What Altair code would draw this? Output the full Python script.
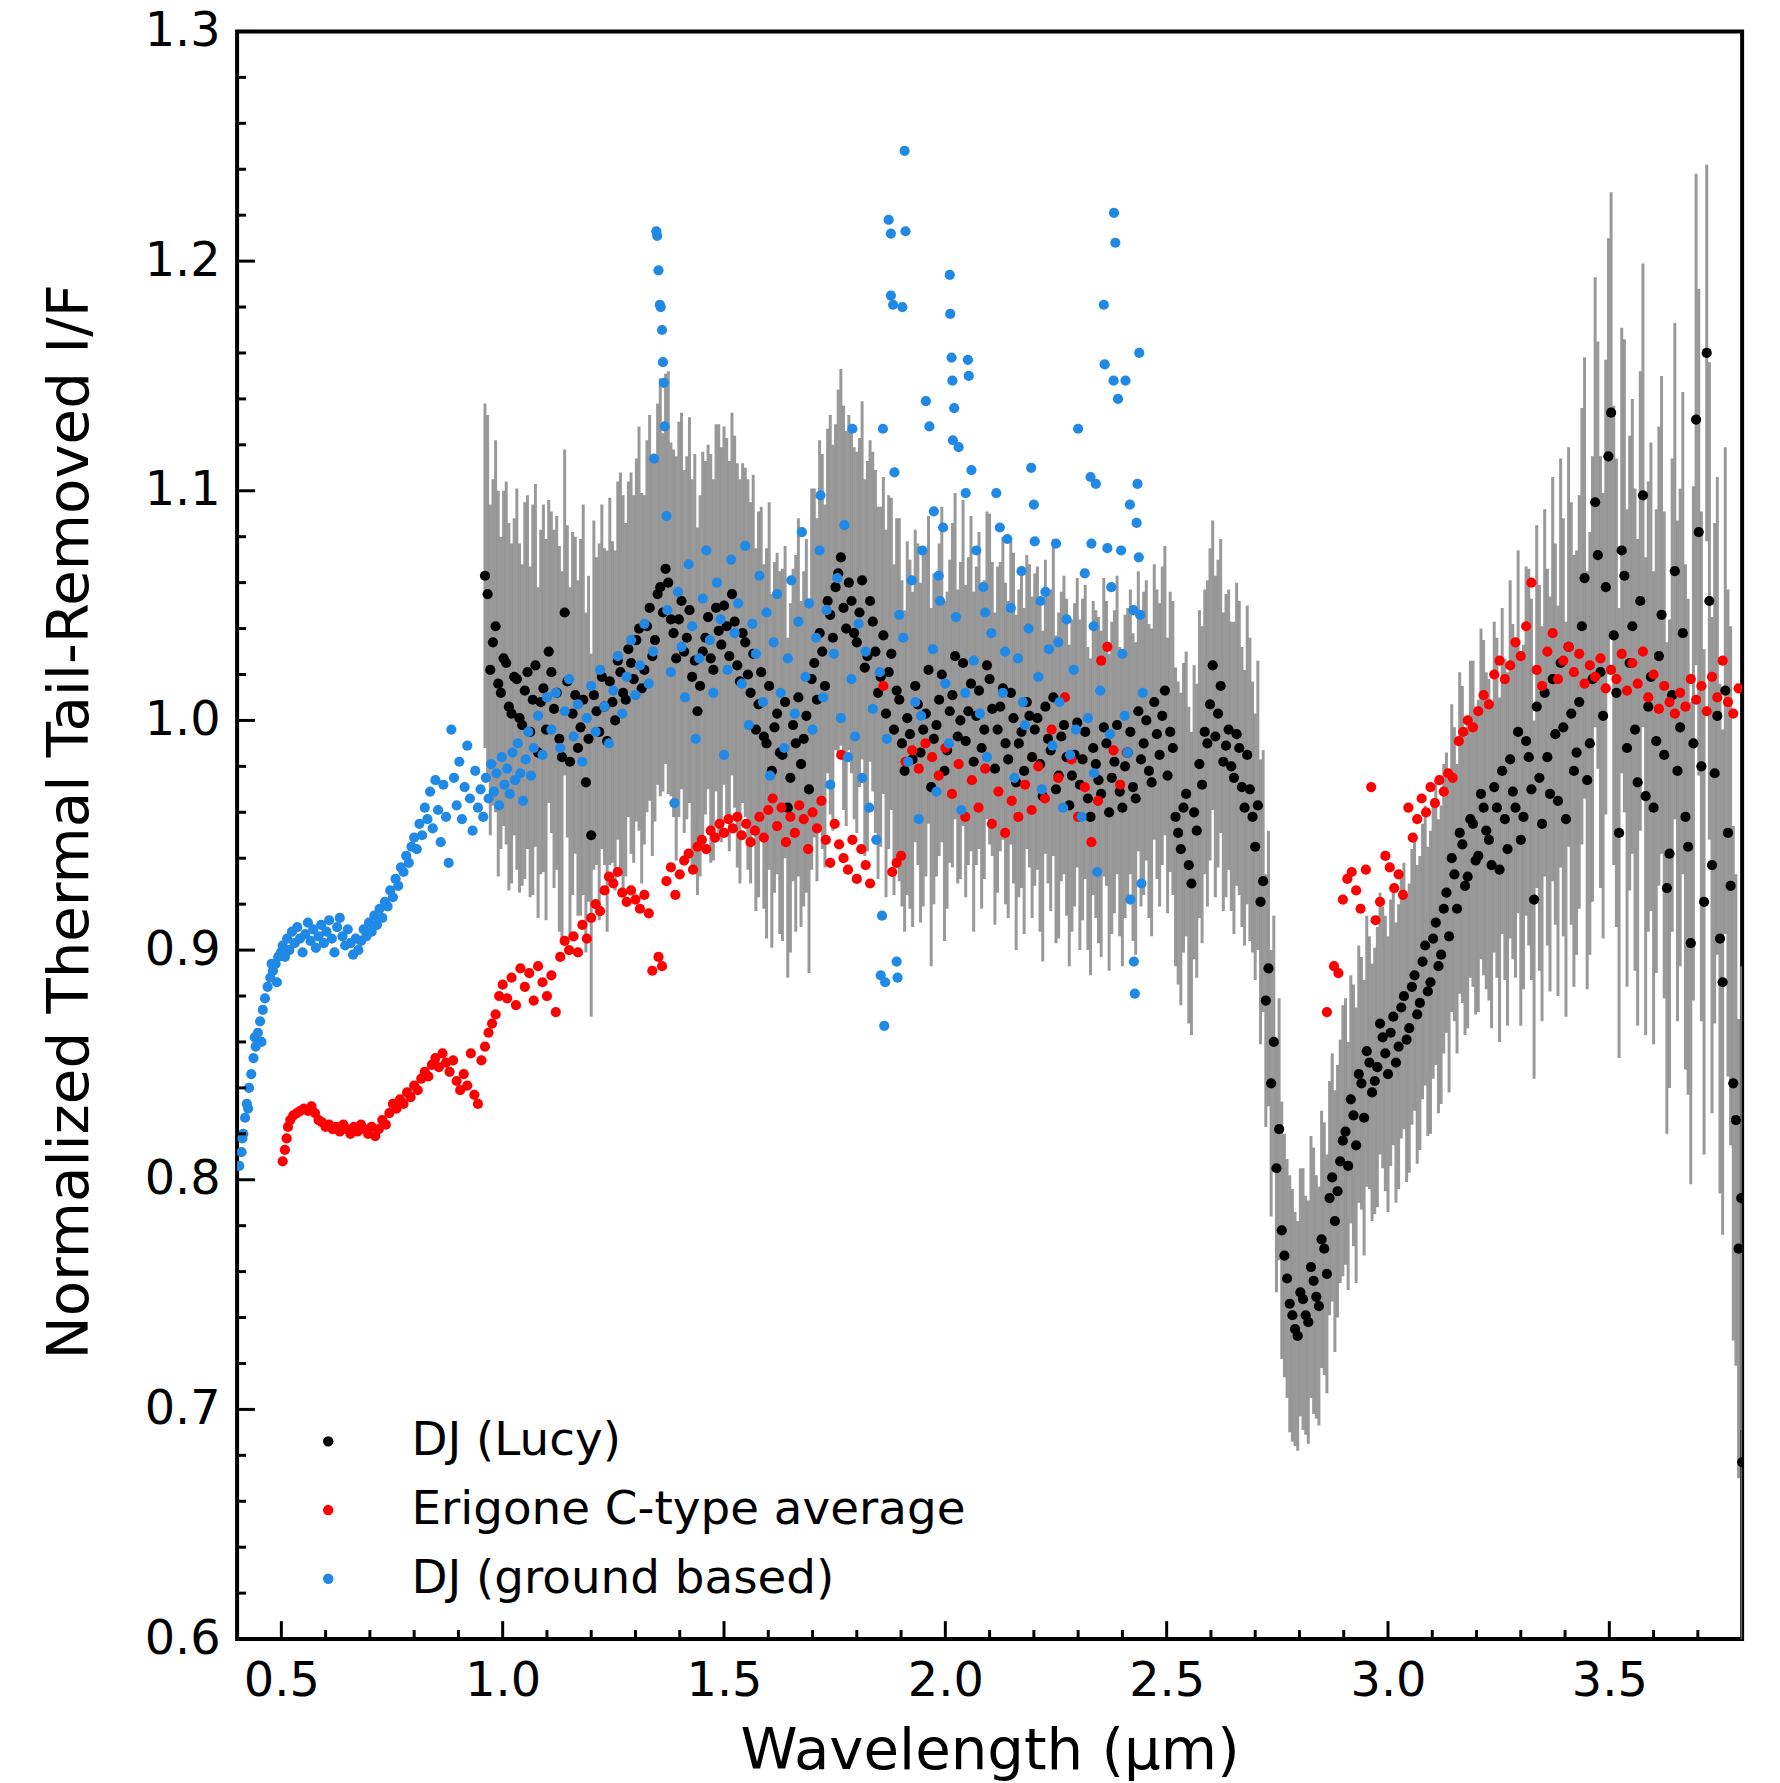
import altair as alt
import pandas as pd

# ---- DJ (Lucy): wavelength, normalized I/F and 1-sigma error ----
lucy_wl = [
    0.960, 0.972, 0.984, 0.996, 1.008, 1.020, 1.032, 1.044, 1.056, 1.068,
    1.080, 1.092, 1.104, 1.116, 1.128, 1.140, 1.152, 1.164, 1.176, 1.188,
    1.200, 1.212, 1.224, 1.236, 1.248, 1.260, 1.272, 1.284, 1.296, 1.308,
    1.320, 1.332, 1.344, 1.356, 1.368, 1.380, 1.392, 1.404, 1.416, 1.428,
    1.440, 1.452, 1.464, 1.476, 1.488, 1.500, 1.512, 1.524, 1.536, 1.548,
    1.560, 1.572, 1.584, 1.596, 1.608, 1.620, 1.632, 1.644, 1.656, 1.668,
    1.680, 1.692, 1.704, 1.716, 1.728, 1.740, 1.752, 1.764, 1.776, 1.788,
    1.800, 1.812, 1.824, 1.836, 1.848, 1.860, 1.872, 1.884, 1.896, 1.908,
    1.920, 1.932, 1.944, 1.956, 1.968, 1.980, 1.992, 2.004, 2.016, 2.028,
    2.040, 2.052, 2.064, 2.076, 2.088, 2.100, 2.112, 2.124, 2.136, 2.148,
    2.160, 2.172, 2.184, 2.196, 2.208, 2.220, 2.232, 2.244, 2.256, 2.268,
    2.280, 2.292, 2.304, 2.316, 2.328, 2.340, 2.352, 2.364, 2.376, 2.388,
    2.400, 2.412, 2.424, 2.436, 2.448, 2.460, 2.472, 2.484, 2.496, 2.508,
    2.520, 2.532, 2.544, 2.556, 2.568, 2.580, 2.592, 2.604, 2.616, 2.628,
    2.640, 2.652, 2.664, 2.676, 2.688, 2.700, 2.712, 2.724, 2.736, 2.748,
    2.760, 2.772, 2.784, 2.796, 2.808, 2.820, 2.832, 2.844, 2.856, 2.868,
    2.880, 2.892, 2.904, 2.916, 2.928, 2.940, 2.952, 2.964, 2.976, 2.988,
    3.000, 3.012, 3.024, 3.036, 3.048, 3.060, 3.072, 3.084, 3.096, 3.108,
    3.120, 3.132, 3.144, 3.156, 3.168, 3.180, 3.192, 3.204, 3.216, 3.228,
    3.240, 3.252, 3.264, 3.276, 3.288, 3.300, 3.312, 3.324, 3.336, 3.348,
    3.360, 3.372, 3.384, 3.396, 3.408, 3.420, 3.432, 3.444, 3.456, 3.468,
    3.480, 3.492, 3.504, 3.516, 3.528, 3.540, 3.552, 3.564, 3.576, 3.588,
    3.600, 3.612, 3.624, 3.636, 3.648, 3.660, 3.672, 3.684, 3.696, 3.708,
    3.720, 3.732, 3.744, 3.756, 3.768, 3.780, 3.792, 3.800,
    # interleaved samples
    0.966, 0.978, 0.990, 1.002, 1.014, 1.026, 1.038, 1.050, 1.062, 1.074,
    1.086, 1.098, 1.110, 1.122, 1.134, 1.146, 1.158, 1.170, 1.182, 1.194,
    1.206, 1.218, 1.230, 1.242, 1.254, 1.266, 1.278, 1.290, 1.302, 1.314,
    1.326, 1.338, 1.350, 1.362, 1.374, 1.386, 1.398, 1.410, 1.422, 1.434,
    1.446, 1.458, 1.470, 1.482, 1.494, 1.506, 1.518, 1.530, 1.542, 1.554,
    1.566, 1.578, 1.590, 1.602, 1.614, 1.626, 1.638, 1.650, 1.662, 1.674,
    1.686, 1.698, 1.710, 1.722, 1.734, 1.746, 1.758, 1.770, 1.782, 1.794,
    1.806, 1.818, 1.830, 1.842, 1.854, 1.866, 1.878, 1.890, 1.902, 1.914,
    1.926, 1.938, 1.950, 1.962, 1.974, 1.986, 1.998, 2.010, 2.022, 2.034,
    2.046, 2.058, 2.070, 2.082, 2.094, 2.106, 2.118, 2.130, 2.142, 2.154,
    2.166, 2.178, 2.190, 2.202, 2.214, 2.226, 2.238, 2.250, 2.262, 2.274,
    2.286, 2.298, 2.310, 2.322, 2.334, 2.346, 2.358, 2.370, 2.382, 2.394,
    2.406, 2.418, 2.430, 2.442, 2.454, 2.466, 2.478, 2.490, 2.502, 2.514,
    2.526, 2.538, 2.550, 2.562, 2.574, 2.586, 2.598, 2.610, 2.622, 2.634,
    2.646, 2.658, 2.670, 2.682, 2.694, 2.706, 2.718, 2.730, 2.742, 2.754,
    2.766, 2.778, 2.790, 2.802, 2.814, 2.826, 2.838, 2.850, 2.862, 2.874,
    2.886, 2.898, 2.910, 2.922, 2.934, 2.946, 2.958, 2.970, 2.982, 2.994,
    3.006, 3.018, 3.030, 3.042, 3.054, 3.066, 3.078, 3.090, 3.102, 3.114,
    3.126, 3.138, 3.150, 3.162, 3.174, 3.186, 3.198, 3.210, 3.222, 3.234,
    3.246, 3.258, 3.270, 3.282, 3.294, 3.306, 3.318, 3.330, 3.342, 3.354,
    3.366, 3.378, 3.390, 3.402, 3.414, 3.426, 3.438, 3.450, 3.462, 3.474,
    3.486, 3.498, 3.510, 3.522, 3.534, 3.546, 3.558, 3.570, 3.582, 3.594,
    3.606, 3.618, 3.630, 3.642, 3.654, 3.666, 3.678, 3.690, 3.702, 3.714,
    3.726, 3.738, 3.750, 3.762, 3.774, 3.786, 3.798,
]
lucy_if = [
    1.063, 1.022, 1.041, 1.012, 1.025, 1.003, 1.018, 0.998, 1.021, 1.009,
    0.986, 1.014, 1.030, 1.005, 0.992, 1.047, 0.982, 1.011, 0.997, 0.973,
    0.950, 1.004, 1.019, 0.991, 1.008, 1.026, 1.012, 1.031, 1.018, 1.040,
    1.022, 1.049, 1.035, 1.058, 1.066, 1.044, 1.027, 1.052, 1.036, 1.019,
    1.004, 1.030, 1.045, 1.022, 1.039, 1.050, 1.028, 1.043, 1.017, 1.034,
    1.012, 0.996, 1.021, 0.990, 0.978, 1.003, 0.985, 0.962, 0.998, 1.010,
    0.992, 0.970, 1.025, 1.038, 1.015, 1.046, 1.058, 1.071, 1.040, 1.052,
    1.034, 1.061, 1.028, 1.043, 1.012, 1.037, 1.021, 0.996, 1.009, 0.978,
    0.994, 1.015, 0.986, 1.003, 0.971, 0.998, 1.020, 0.987, 1.011, 0.993,
    1.025, 1.004, 0.982, 1.013, 0.996, 1.018, 0.979, 1.006, 0.990, 1.012,
    0.973, 0.995, 1.008, 0.984, 1.001, 0.967, 0.992, 1.010, 0.976, 0.998,
    0.963, 0.985, 0.972, 0.995, 0.958, 0.981, 0.968, 0.990, 0.975, 0.998,
    0.962, 0.986, 0.971, 1.004, 0.990, 0.978, 1.008, 0.985, 1.013, 0.995,
    0.958, 0.944, 0.968, 0.929, 0.952, 0.972, 0.990, 1.024, 1.003, 0.982,
    0.996, 0.975, 0.988, 0.962, 0.970, 0.945, 0.921, 0.878, 0.842, 0.805,
    0.778, 0.757, 0.741, 0.732, 0.748, 0.738, 0.756, 0.745, 0.770, 0.792,
    0.782, 0.808, 0.821, 0.835, 0.815, 0.842, 0.856, 0.838, 0.849, 0.862,
    0.846, 0.871, 0.858, 0.880, 0.866, 0.889, 0.877, 0.902, 0.886, 0.912,
    0.898, 0.925, 0.940, 0.918, 0.946, 0.932, 0.955, 0.941, 0.962, 0.948,
    0.971, 0.935, 0.957, 0.983, 0.962, 0.948, 0.991, 0.970, 1.006, 0.955,
    0.984, 1.018, 0.965, 0.997, 1.032, 0.978, 1.008, 1.062, 0.990, 1.095,
    1.021, 1.058, 1.134, 1.012, 1.074, 0.988, 1.041, 0.973, 1.098, 1.006,
    0.962, 1.028, 0.985, 0.942, 1.065, 0.997, 0.958, 0.903, 1.131, 0.980,
    1.160, 0.937, 1.002, 0.886, 0.951, 0.842, 0.770, 0.677,
    # interleaved samples
    1.055, 1.034, 1.016, 1.027, 1.006, 1.019, 1.001, 1.013, 0.995, 1.024,
    1.008, 0.996, 1.021, 1.012, 0.984, 1.017, 1.003, 0.988, 1.009, 0.992,
    1.011, 0.995, 1.006, 1.017, 1.000, 1.021, 1.009, 1.025, 1.035, 1.014,
    1.041, 1.028, 1.055, 1.047, 1.060, 1.038, 1.044, 1.030, 1.048, 1.026,
    1.015, 1.036, 1.027, 1.049, 1.033, 1.041, 1.055, 1.024, 1.038, 1.020,
    1.029, 1.007, 0.993, 1.015, 0.997, 0.986, 1.008, 0.975, 0.990, 0.981,
    1.002, 1.018, 1.009, 1.030, 1.052, 1.036, 1.064, 1.049, 1.060, 1.038,
    1.047, 1.023, 1.052, 1.030, 1.019, 1.003, 1.029, 1.013, 0.990, 1.001,
    0.983, 1.007, 0.996, 1.022, 0.992, 1.009, 0.978, 1.004, 1.028, 1.000,
    0.991, 1.016, 1.002, 0.988, 1.024, 1.005, 0.996, 1.014, 0.983, 1.001,
    0.990, 0.978, 1.002, 0.996, 0.981, 1.006, 0.987, 0.970, 0.993, 0.984,
    0.976, 0.999, 0.983, 0.966, 0.988, 0.974, 0.997, 0.960, 0.982, 0.969,
    0.980, 0.995, 0.966, 0.983, 1.000, 0.973, 0.994, 1.002, 0.976, 0.988,
    0.951, 0.962, 0.937, 0.960, 0.981, 0.995, 1.007, 0.993, 1.015, 0.989,
    0.980, 0.994, 0.971, 0.985, 0.958, 0.963, 0.930, 0.892, 0.860, 0.822,
    0.767, 0.746, 0.735, 0.751, 0.741, 0.762, 0.749, 0.774, 0.759, 0.801,
    0.795, 0.817, 0.806, 0.828, 0.846, 0.827, 0.851, 0.843, 0.868, 0.855,
    0.864, 0.851, 0.875, 0.861, 0.884, 0.872, 0.895, 0.882, 0.905, 0.893,
    0.918, 0.906, 0.933, 0.951, 0.928, 0.957, 0.939, 0.968, 0.952, 0.937,
    0.962, 0.978, 0.944, 0.969, 0.995, 0.958, 0.984, 0.922, 0.975, 1.012,
    0.968, 0.994, 1.025, 0.957, 1.003, 0.986, 1.041, 0.974, 1.018, 1.072,
    1.002, 1.115, 1.037, 0.951, 1.063, 1.025, 0.996, 1.052, 0.967, 1.019,
    0.991, 1.046, 0.927, 1.011, 0.978, 1.038, 0.945, 0.990, 1.082, 0.921,
    1.052, 0.977, 0.905, 1.013, 0.928, 0.826, 0.792,
]
lucy_err = [
    0.075, 0.072, 0.081, 0.068, 0.079, 0.074, 0.083, 0.070, 0.077, 0.085,
    0.072, 0.080, 0.066, 0.078, 0.084, 0.071, 0.076, 0.069, 0.082, 0.074,
    0.079, 0.067, 0.075, 0.083, 0.070, 0.078, 0.086, 0.073, 0.080, 0.088,
    0.076, 0.084, 0.079, 0.091, 0.085, 0.077, 0.088, 0.082, 0.079, 0.086,
    0.080, 0.087, 0.075, 0.083, 0.090, 0.078, 0.085, 0.081, 0.088, 0.076,
    0.083, 0.079, 0.072, 0.085, 0.077, 0.070, 0.081, 0.074, 0.068, 0.078,
    0.073, 0.080, 0.076, 0.084, 0.079, 0.087, 0.071, 0.082, 0.086, 0.075,
    0.083, 0.078, 0.085, 0.074, 0.081, 0.069, 0.077, 0.072, 0.079, 0.070,
    0.076, 0.068, 0.074, 0.071, 0.078, 0.066, 0.073, 0.069, 0.075, 0.064,
    0.071, 0.067, 0.074, 0.069, 0.065, 0.072, 0.068, 0.063, 0.070, 0.066,
    0.073, 0.068, 0.064, 0.070, 0.066, 0.072, 0.063, 0.069, 0.071, 0.065,
    0.070, 0.066, 0.072, 0.064, 0.069, 0.067, 0.071, 0.062, 0.068, 0.065,
    0.069, 0.063, 0.067, 0.061, 0.066, 0.064, 0.060, 0.066, 0.063, 0.061,
    0.065, 0.068, 0.062, 0.066, 0.064, 0.069, 0.071, 0.063, 0.067, 0.065,
    0.061, 0.068, 0.064, 0.060, 0.066, 0.058, 0.062, 0.055, 0.058, 0.054,
    0.056, 0.052, 0.055, 0.050, 0.057, 0.053, 0.058, 0.052, 0.055, 0.051,
    0.057, 0.053, 0.058, 0.054, 0.060, 0.055, 0.059, 0.056, 0.061, 0.057,
    0.060, 0.056, 0.062, 0.058, 0.063, 0.059, 0.064, 0.061, 0.066, 0.062,
    0.065, 0.061, 0.067, 0.063, 0.069, 0.066, 0.071, 0.068, 0.073, 0.070,
    0.072, 0.075, 0.070, 0.078, 0.074, 0.081, 0.076, 0.083, 0.079, 0.086,
    0.082, 0.088, 0.085, 0.091, 0.087, 0.094, 0.090, 0.096, 0.092, 0.098,
    0.094, 0.099, 0.096, 0.102, 0.097, 0.104, 0.099, 0.106, 0.101, 0.098,
    0.103, 0.100, 0.106, 0.102, 0.108, 0.104, 0.110, 0.105, 0.107, 0.111,
    0.082, 0.108, 0.104, 0.110, 0.106, 0.112, 0.100, 0.095,
    # interleaved samples
    0.078, 0.071, 0.084, 0.073, 0.080, 0.069, 0.076, 0.082, 0.072, 0.079,
    0.075, 0.083, 0.070, 0.077, 0.081, 0.068, 0.079, 0.073, 0.085, 0.071,
    0.076, 0.082, 0.069, 0.080, 0.074, 0.087, 0.077, 0.083, 0.079, 0.085,
    0.081, 0.087, 0.083, 0.078, 0.092, 0.080, 0.086, 0.079, 0.084, 0.090,
    0.083, 0.077, 0.089, 0.080, 0.086, 0.082, 0.079, 0.088, 0.074, 0.085,
    0.078, 0.084, 0.075, 0.080, 0.072, 0.079, 0.068, 0.076, 0.082, 0.071,
    0.077, 0.083, 0.079, 0.086, 0.075, 0.084, 0.080, 0.088, 0.073, 0.081,
    0.076, 0.082, 0.070, 0.079, 0.074, 0.080, 0.068, 0.075, 0.071, 0.077,
    0.073, 0.070, 0.077, 0.067, 0.072, 0.068, 0.074, 0.066, 0.071, 0.069,
    0.068, 0.073, 0.065, 0.070, 0.067, 0.064, 0.071, 0.066, 0.069, 0.072,
    0.067, 0.071, 0.066, 0.068, 0.073, 0.064, 0.070, 0.067, 0.063, 0.069,
    0.068, 0.063, 0.070, 0.066, 0.064, 0.071, 0.065, 0.069, 0.066, 0.063,
    0.066, 0.062, 0.068, 0.064, 0.061, 0.067, 0.063, 0.065, 0.060, 0.064,
    0.066, 0.063, 0.069, 0.064, 0.067, 0.062, 0.068, 0.070, 0.064, 0.066,
    0.063, 0.066, 0.061, 0.065, 0.059, 0.063, 0.057, 0.060, 0.055, 0.057,
    0.053, 0.056, 0.051, 0.054, 0.052, 0.057, 0.053, 0.056, 0.052, 0.054,
    0.055, 0.059, 0.054, 0.057, 0.056, 0.060, 0.055, 0.058, 0.057, 0.060,
    0.058, 0.061, 0.057, 0.062, 0.060, 0.065, 0.060, 0.063, 0.061, 0.064,
    0.063, 0.068, 0.064, 0.070, 0.065, 0.069, 0.067, 0.072, 0.069, 0.071,
    0.074, 0.071, 0.077, 0.073, 0.079, 0.075, 0.082, 0.078, 0.084, 0.080,
    0.086, 0.083, 0.089, 0.086, 0.092, 0.088, 0.095, 0.091, 0.097, 0.093,
    0.097, 0.095, 0.100, 0.098, 0.103, 0.099, 0.105, 0.100, 0.104, 0.102,
    0.101, 0.104, 0.107, 0.103, 0.109, 0.105, 0.108, 0.112, 0.106, 0.110,
    0.104, 0.109, 0.111, 0.106, 0.113, 0.107, 0.101,
]

# ---- Erigone C-type average ----
erigone_wl = [
    0.503, 0.508, 0.512, 0.515, 0.520, 0.527, 0.535, 0.543, 0.551, 0.560,
    0.568, 0.576, 0.584, 0.592, 0.600, 0.608, 0.616, 0.624, 0.632, 0.640,
    0.648, 0.656, 0.664, 0.672, 0.680, 0.688, 0.696, 0.704, 0.712, 0.720,
    0.728, 0.736, 0.744, 0.752, 0.760, 0.768, 0.776, 0.784, 0.792, 0.800,
    0.808, 0.816, 0.824, 0.832, 0.840, 0.848, 0.856, 0.864, 0.872, 0.880,
    0.888, 0.896, 0.904, 0.912, 0.920, 0.928, 0.936, 0.944, 0.952, 0.960,
    0.968, 0.976, 0.984, 0.992, 1.000,
    1.010, 1.020, 1.030, 1.040, 1.050, 1.060, 1.070, 1.080, 1.090, 1.100,
    1.110, 1.120, 1.130, 1.140, 1.150, 1.160, 1.170, 1.180, 1.190,
    1.200, 1.210, 1.220, 1.230, 1.240, 1.250, 1.260, 1.270, 1.280, 1.290,
    1.300, 1.310, 1.320, 1.330, 1.338, 1.352, 1.360, 1.370, 1.380, 1.390,
    1.400,
    1.410, 1.420, 1.430, 1.440, 1.450, 1.460, 1.470, 1.480, 1.490, 1.500,
    1.510, 1.520, 1.530, 1.540, 1.550, 1.560, 1.570, 1.580, 1.590, 1.600,
    1.610, 1.620, 1.630, 1.640, 1.650, 1.660, 1.670, 1.680, 1.690, 1.700,
    1.710, 1.720, 1.730, 1.740, 1.750, 1.760, 1.770, 1.780, 1.790, 1.800,
    1.810, 1.820, 1.830, 1.765, 1.860, 1.880, 1.890, 1.900,
    1.910, 1.925, 1.940, 1.955, 1.970, 1.985, 2.000, 2.015, 2.030, 2.045,
    2.060, 2.075, 2.090, 2.105, 2.120, 2.135, 2.150, 2.165, 2.180, 2.195,
    2.210, 2.225, 2.240, 2.255, 2.270, 2.285, 2.300, 2.315, 2.330, 2.345,
    2.352, 2.366, 2.380, 2.395, 2.410,
    2.862, 2.878, 2.888, 2.898, 2.908, 2.918, 2.928, 2.938, 2.950, 2.962,
    2.972, 2.982, 2.994, 3.004, 3.014, 3.024, 3.034, 3.046, 3.056, 3.066,
    3.076, 3.086, 3.096, 3.106, 3.116, 3.126, 3.136, 3.146, 3.160, 3.170,
    3.180, 3.192, 3.204, 3.216, 3.228, 3.240, 3.252, 3.264, 3.276, 3.288,
    3.300, 3.312, 3.324, 3.336, 3.348, 3.360, 3.372, 3.384, 3.396, 3.408,
    3.420, 3.432, 3.444, 3.456, 3.468, 3.480, 3.492, 3.504, 3.516, 3.528,
    3.540, 3.552, 3.564, 3.576, 3.588, 3.600, 3.612, 3.624, 3.636, 3.648,
    3.660, 3.672, 3.684, 3.696, 3.708, 3.720, 3.732, 3.744, 3.756, 3.768,
    3.780, 3.792,
]
erigone_if = [
    0.808, 0.813, 0.818, 0.823, 0.826, 0.828, 0.829, 0.830, 0.831, 0.830,
    0.832, 0.829, 0.826, 0.825, 0.823, 0.824, 0.822, 0.823, 0.821, 0.824,
    0.822, 0.820, 0.823, 0.821, 0.824, 0.822, 0.820, 0.823, 0.819, 0.822,
    0.826, 0.824, 0.829, 0.833, 0.831, 0.835, 0.833, 0.838, 0.836, 0.841,
    0.839, 0.844, 0.847, 0.845, 0.850, 0.853, 0.849, 0.855, 0.851, 0.847,
    0.852, 0.843, 0.839, 0.846, 0.841, 0.855, 0.837, 0.833, 0.852, 0.858,
    0.864, 0.868, 0.872, 0.880, 0.885,
    0.879, 0.888, 0.876, 0.892, 0.884, 0.890, 0.878, 0.893, 0.886, 0.880,
    0.889, 0.873, 0.897, 0.904, 0.900, 0.906, 0.899, 0.911, 0.905,
    0.914, 0.920, 0.917, 0.926, 0.932, 0.929, 0.934, 0.925, 0.921, 0.926,
    0.922, 0.918, 0.924, 0.916, 0.891, 0.897, 0.893, 0.930, 0.936, 0.924,
    0.933,
    0.939, 0.942, 0.935, 0.945, 0.948, 0.944, 0.952, 0.949, 0.955, 0.951,
    0.957, 0.953, 0.958, 0.950, 0.955, 0.947, 0.952, 0.958, 0.949, 0.961,
    0.966, 0.954, 0.962, 0.947, 0.958, 0.951, 0.963, 0.957, 0.944, 0.960,
    0.953, 0.965, 0.948, 0.938, 0.955, 0.946, 0.940, 0.935, 0.948, 0.931,
    0.944, 0.937, 0.929, 0.985, 1.015, 0.934, 0.938, 0.941,
    0.982, 0.987, 0.979, 0.990, 0.984, 0.976, 0.988, 0.968, 0.981, 0.958,
    0.974, 0.962, 0.979, 0.955, 0.969, 0.951, 0.965, 0.958, 0.972, 0.961,
    0.980, 0.966, 0.996, 0.975, 1.010, 0.983, 0.958, 0.971, 0.947, 0.965,
    1.026, 1.032, 0.987, 0.972, 0.986,
    0.873, 0.893, 0.890, 0.922, 0.931, 0.934, 0.926, 0.918, 0.935, 0.971,
    0.913, 0.921, 0.941, 0.936, 0.927, 0.933, 0.924, 0.962, 0.949, 0.957,
    0.966, 0.960, 0.971, 0.964, 0.974, 0.969, 0.977, 0.975, 0.991, 0.995,
    1.000, 0.997, 1.004, 1.011, 1.007, 1.020, 1.026, 1.018, 1.024, 1.034,
    1.028, 1.041, 1.060, 1.022, 1.015, 1.030, 1.038, 1.018, 1.026, 1.032,
    1.021, 1.029, 1.016, 1.024, 1.019, 1.027, 1.014, 1.022, 1.018, 1.029,
    1.013, 1.025, 1.016, 1.030, 1.010, 1.020, 1.005, 1.015, 1.008, 1.003,
    1.012, 1.006, 1.018, 1.009, 1.015, 1.004, 1.019, 1.010, 1.026, 1.008,
    1.003, 1.014,
]

# ---- DJ (ground based) ----
ground_wl = [
    0.405, 0.410, 0.412, 0.414, 0.418, 0.422, 0.425, 0.427, 0.432, 0.437,
    0.440, 0.442, 0.447, 0.452, 0.455, 0.458, 0.463, 0.469, 0.475, 0.478,
    0.481, 0.487, 0.490, 0.493, 0.499,
    0.503, 0.508, 0.513, 0.518, 0.524, 0.530, 0.536, 0.542, 0.548, 0.554,
    0.560, 0.566, 0.572, 0.578, 0.584, 0.590, 0.596, 0.602, 0.608, 0.614,
    0.620, 0.626, 0.632, 0.638, 0.644, 0.650, 0.656, 0.662, 0.668, 0.674,
    0.680, 0.686, 0.692, 0.698, 0.704, 0.710, 0.716, 0.722,
    0.728, 0.734, 0.740, 0.746, 0.752, 0.758, 0.764, 0.770, 0.776, 0.782,
    0.788, 0.794, 0.800,
    0.806, 0.812, 0.818, 0.824, 0.830, 0.836, 0.842, 0.848, 0.854, 0.860,
    0.866, 0.872, 0.878, 0.884, 0.890, 0.896, 0.902, 0.908, 0.914, 0.920,
    0.926, 0.932, 0.938, 0.944, 0.950,
    0.956, 0.962, 0.968, 0.974, 0.980, 0.986, 0.992, 0.998, 1.004, 1.010,
    1.016, 1.022, 1.028, 1.034, 1.040, 1.046, 1.052, 1.058, 1.064, 1.070,
    1.080, 1.090, 1.100,
    1.110, 1.120, 1.130, 1.140, 1.150, 1.160, 1.170, 1.180, 1.190, 1.200,
    1.210, 1.220, 1.230, 1.240, 1.250, 1.260, 1.270, 1.280, 1.290, 1.300,
    1.310, 1.320, 1.330, 1.340,
    1.342, 1.347, 1.349, 1.352, 1.355, 1.357, 1.360, 1.362, 1.364, 1.366,
    1.370,
    1.372, 1.380, 1.388, 1.396, 1.404, 1.412, 1.420, 1.428, 1.436, 1.444,
    1.452, 1.460, 1.468, 1.476, 1.484, 1.492, 1.500, 1.508, 1.516, 1.524,
    1.532, 1.540, 1.548, 1.556, 1.564, 1.572, 1.580, 1.588, 1.596, 1.604,
    1.612, 1.620, 1.628, 1.636, 1.644, 1.652, 1.660, 1.668, 1.676, 1.684,
    1.692, 1.700, 1.708, 1.716, 1.718, 1.724, 1.732, 1.740, 1.748, 1.756,
    1.764, 1.772, 1.780, 1.790,
    1.788, 1.796, 1.804, 1.812, 1.820, 1.828, 1.836, 1.844, 1.852, 1.854,
    1.857, 1.859, 1.862, 1.864, 1.868, 1.872, 1.877, 1.877, 1.882, 1.885,
    1.890, 1.892, 1.896, 1.903, 1.905, 1.908, 1.910, 1.916, 1.924, 1.932,
    1.940, 1.945, 1.948, 1.956, 1.964, 1.972, 1.974, 1.980, 1.985, 1.988,
    1.995, 2.000, 2.008, 2.010, 2.011, 2.014, 2.016, 2.017, 2.020, 2.024,
    2.030, 2.036, 2.045, 2.046, 2.051, 2.053, 2.059, 2.064, 2.070, 2.078,
    2.086, 2.090, 2.094, 2.104, 2.115, 2.123, 2.130, 2.135, 2.140, 2.148,
    2.156, 2.164, 2.172, 2.175, 2.180, 2.188, 2.194, 2.200, 2.202, 2.210,
    2.215, 2.218, 2.226, 2.234, 2.242, 2.250, 2.255, 2.258, 2.266, 2.274,
    2.282, 2.290, 2.295, 2.300, 2.308, 2.315, 2.322, 2.328, 2.330, 2.335,
    2.336, 2.340, 2.343, 2.350, 2.358, 2.360, 2.366, 2.372, 2.375, 2.380,
    2.381, 2.384, 2.390, 2.397, 2.400, 2.405, 2.407, 2.412, 2.417, 2.418,
    2.425, 2.426, 2.428, 2.432, 2.434, 2.437, 2.438, 2.440, 2.443, 2.446,
]
ground_if = [
    0.806, 0.812, 0.818, 0.820, 0.827, 0.833, 0.831, 0.840, 0.846, 0.853,
    0.862, 0.858, 0.864, 0.869, 0.860, 0.874, 0.879, 0.884, 0.888, 0.894,
    0.891, 0.894, 0.886, 0.897, 0.899,
    0.902, 0.897, 0.905, 0.900, 0.908, 0.903, 0.910, 0.905, 0.899, 0.907,
    0.912, 0.904, 0.909, 0.901, 0.906, 0.911, 0.903, 0.908, 0.913, 0.905,
    0.899, 0.910, 0.914, 0.906, 0.902, 0.909, 0.903, 0.898, 0.905, 0.900,
    0.904, 0.909, 0.906, 0.912, 0.908, 0.915, 0.911, 0.918,
    0.914, 0.921, 0.919, 0.926, 0.923, 0.931, 0.928, 0.936, 0.934, 0.941,
    0.938, 0.945, 0.949,
    0.944, 0.955, 0.950, 0.962, 0.957, 0.969, 0.953, 0.974, 0.961, 0.947,
    0.972, 0.958, 0.938, 0.996, 0.975, 0.963, 0.982, 0.957, 0.971, 0.989,
    0.966, 0.952, 0.978, 0.962, 0.970,
    0.958, 0.975, 0.966, 0.981, 0.969, 0.977, 0.963, 0.984, 0.972, 0.979,
    0.968, 0.986, 0.974, 0.990, 0.977, 0.965, 0.983, 0.995, 0.976, 0.988,
    1.002, 0.985, 1.010,
    0.996, 1.012, 0.988, 1.004, 1.018, 0.993, 1.007, 0.982, 1.001, 1.015,
    0.995, 1.022, 1.006, 0.990, 1.013, 1.028, 1.003, 1.019, 1.035, 1.011,
    1.024, 1.042, 1.016, 1.030,
    1.114, 1.213, 1.211, 1.196, 1.181, 1.180, 1.170, 1.156, 1.147, 1.128,
    1.089,
    1.048, 1.021, 0.964, 1.056, 1.032, 1.010, 1.068, 1.041, 0.992, 1.027,
    1.053, 1.074, 1.035, 1.012, 1.060, 1.044, 0.985, 1.022, 1.070, 1.038,
    1.051, 1.016, 1.076, 0.998, 1.042, 1.029, 1.063, 1.008, 1.047, 0.976,
    1.034, 1.055, 1.012, 0.988, 1.027, 1.061, 1.003, 1.043, 1.082, 1.019,
    1.051, 0.996, 1.036, 1.074, 1.098, 1.010, 1.048, 0.972, 1.029, 1.062,
    1.001, 1.085, 0.984, 1.127,
    1.018, 0.993, 1.042, 0.975, 1.030, 0.962, 1.005, 0.948, 1.021, 0.889,
    0.915, 1.127, 0.867, 0.886, 0.992, 1.218, 1.212, 1.185, 1.181, 1.108,
    0.895, 0.888, 1.046, 1.180, 1.036, 1.248, 1.213, 0.982, 1.061, 1.008,
    0.957, 1.002, 1.074, 1.139, 1.128, 1.031, 1.091, 0.969, 1.063, 1.052,
    1.084, 1.016, 0.990, 1.194, 1.177, 1.158, 1.148, 1.122, 1.136, 1.045,
    1.119, 0.961, 1.012, 1.099, 1.157, 1.150, 1.109, 1.026, 1.074, 1.003,
    1.058, 1.047, 0.984, 1.038, 1.099, 1.084, 1.012, 1.030, 1.079, 1.049,
    0.975, 1.027, 1.065, 1.008, 0.998, 1.040, 1.110, 1.094, 1.078, 1.019,
    1.052, 0.970, 1.056, 1.031, 0.989, 1.077, 1.034, 1.008, 0.962, 1.044,
    0.985, 1.022, 0.996, 1.127, 0.958, 1.064, 1.001, 1.106, 1.077, 1.041,
    0.977, 1.103, 0.934, 1.013, 1.181, 1.155, 1.075, 0.994, 1.058, 1.148,
    1.221, 1.208, 1.140, 1.074, 1.029, 1.002, 1.148, 0.986, 1.094, 0.922,
    1.048, 0.895, 0.881, 1.086, 1.103, 1.071, 1.160, 1.046, 0.929, 1.012,
]

series_names = ["DJ (Lucy)", "Erigone C-type average", "DJ (ground based)"]
series_colors = ["#000000", "#ff0000", "#2089e6"]

y_major = [0.6, 0.7, 0.8, 0.9, 1.0, 1.1, 1.2, 1.3]
y_minor = [0.62, 0.64, 0.66, 0.68, 0.72, 0.74, 0.76, 0.78,
           0.82, 0.84, 0.86, 0.88, 0.92, 0.94, 0.96, 0.98,
           1.02, 1.04, 1.06, 1.08, 1.12, 1.14, 1.16, 1.18,
           1.22, 1.24, 1.26, 1.28]
x_major = [0.5, 1.0, 1.5, 2.0, 2.5, 3.0, 3.5]
x_minor = [0.6, 0.7, 0.8, 0.9, 1.1, 1.2, 1.3, 1.4, 1.6, 1.7, 1.8, 1.9,
           2.1, 2.2, 2.3, 2.4, 2.6, 2.7, 2.8, 2.9, 3.1, 3.2, 3.3, 3.4,
           3.6, 3.7]

W, H = 1511, 1614
FONT = "DejaVu Sans"

x_scale = alt.Scale(domain=[0.4, 3.8], nice=False, zero=False)
y_scale = alt.Scale(domain=[0.6, 1.3], nice=False, zero=False)

lucy = pd.DataFrame({"wl": lucy_wl, "val": lucy_if, "err": lucy_err})
lucy["lo"] = lucy.val - lucy.err
lucy["hi"] = lucy.val + lucy.err
lucy["series"] = series_names[0]

erigone = pd.DataFrame({"wl": erigone_wl, "val": erigone_if})
erigone["series"] = series_names[1]

ground = pd.DataFrame({"wl": ground_wl, "val": ground_if})
ground["series"] = series_names[2]

points = pd.concat(
    [lucy[["wl", "val", "series"]], erigone, ground], ignore_index=True
)

# same axis objects on every layer so the merged axes stay enabled
x_axis = alt.Axis(
    values=x_major, format=".1f", title="Wavelength (µm)",
    domain=False, ticks=False, grid=False,
    labelFontSize=48, labelPadding=19, labelFlush=False,
    titleFontSize=58, titleFontWeight="normal",
    titleX=W / 2, titleY=130, titleBaseline="alphabetic", titleAlign="center",
)
y_axis = alt.Axis(
    values=y_major, format=".1f", title="Normalized Thermal Tail-Removed I/F",
    domain=False, ticks=False, grid=False,
    labelFontSize=48, labelPadding=17, labelFlush=False,
    titleFontSize=58, titleFontWeight="normal", titleAngle=270,
    titleX=-150, titleY=H / 2 - 14, titleBaseline="alphabetic",
    titleAlign="center",
)

bars = alt.Chart(lucy).mark_rule(
    color="#7f7f7f", opacity=0.8, strokeWidth=3, clip=True
).encode(
    x=alt.X("wl:Q", scale=x_scale, axis=x_axis),
    y=alt.Y("lo:Q", scale=y_scale, axis=y_axis),
    y2="hi:Q",
)

dots = alt.Chart(points).mark_circle(size=105, opacity=1, clip=True).encode(
    x=alt.X("wl:Q", scale=x_scale, axis=x_axis),
    y=alt.Y("val:Q", scale=y_scale, axis=y_axis),
    color=alt.Color(
        "series:N",
        scale=alt.Scale(domain=series_names, range=series_colors),
        legend=alt.Legend(title=None),
    ),
)


def y_ticks(values, length):
    return alt.Chart(pd.DataFrame({"v": values})).mark_rule(
        color="black", strokeWidth=3
    ).encode(
        y=alt.Y("v:Q", scale=y_scale, axis=y_axis),
        x=alt.value(0),
        x2=alt.value(length),
    )


def x_ticks(values, length):
    return alt.Chart(pd.DataFrame({"v": values})).mark_rule(
        color="black", strokeWidth=3
    ).encode(
        x=alt.X("v:Q", scale=x_scale, axis=x_axis),
        y=alt.value(H),
        y2=alt.value(H - length),
    )


chart = (
    alt.layer(
        bars, dots,
        y_ticks(y_major, 18), y_ticks(y_minor, 9),
        x_ticks(x_major, 18), x_ticks(x_minor, 9),
    )
    .properties(
        width=W,
        height=H,
        autosize=alt.AutoSizeParams(type="none"),
        padding={"left": 230, "top": 20, "right": 30, "bottom": 150},
        background="white",
    )
    .configure_view(stroke="black", strokeWidth=4)
    .configure_axis(
        labelFont=FONT, titleFont=FONT, labelColor="black", titleColor="black"
    )
    .configure_legend(
        orient="none",
        legendX=68,
        legendY=1392,
        padding=0,
        symbolType="circle",
        symbolSize=110,
        symbolStrokeWidth=0,
        symbolOpacity=1,
        labelFont=FONT,
        labelFontSize=47,
        labelColor="black",
        labelOffset=60,
        labelLimit=1000,
        rowPadding=21,
    )
)

chart.save("out.html", embed_options={"renderer": "svg", "actions": False})
